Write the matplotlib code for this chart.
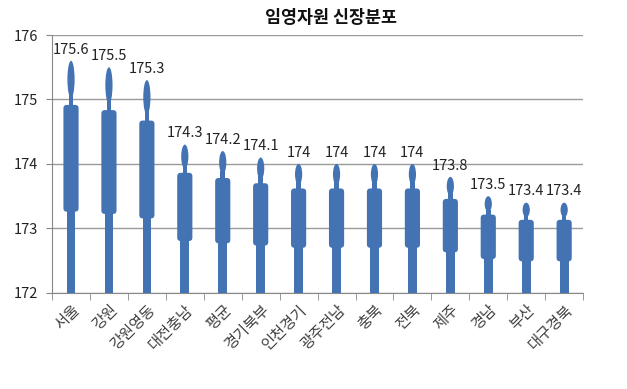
import matplotlib
matplotlib.use("Agg")
import matplotlib.pyplot as plt
from matplotlib.patches import FancyBboxPatch, Ellipse, Rectangle
import numpy as np

plt.rcParams['font.family'] = ['Noto Sans CJK KR', 'DejaVu Sans']

title = "임영자원 신장분포"
categories = ["서울", "강원", "강원영동", "대전충남", "평균", "경기북부", "인천경기",
              "광주전남", "충북", "전북", "제주", "경남", "부산", "대구경북"]
values = [175.6, 175.5, 175.3, 174.3, 174.2, 174.1, 174, 174, 174, 174, 173.8, 173.5, 173.4, 173.4]
y_ticks = [172, 173, 174, 175, 176]

base = 172
color = "#4373b3"

fig = plt.figure(figsize=(6.27, 3.89), dpi=100)
ax = fig.add_axes([0.083, 0.247, 0.847, 0.663])

x = np.arange(len(categories))
vals = np.array(values)
h = vals - base

# figure shape proportions (fractions of total height)
leg_top = base + 0.35 * h
body_top = base + 0.81 * h
neck_top = base + 0.86 * h
head_c = base + 0.92 * h
head_h = 0.16 * h

ax.bar(x, leg_top - base + 0.02, bottom=base, width=0.23, color=color, zorder=3)
for xi, lb, bt, nt, hc, hh in zip(x, leg_top, body_top, neck_top, head_c, head_h):
    body = FancyBboxPatch((xi - 0.2, lb), 0.4, bt - lb,
                          boxstyle="round,pad=0,rounding_size=0.09",
                          mutation_aspect=0.6, facecolor=color, edgecolor='none', zorder=3)
    ax.add_patch(body)
    ax.add_patch(Rectangle((xi - 0.06, bt - 0.03), 0.12, nt - bt + 0.03,
                           facecolor=color, edgecolor='none', zorder=3))
    ax.add_patch(Ellipse((xi, hc), 0.19, hh, facecolor=color, edgecolor='none', zorder=3))

for xi, v in zip(x, values):
    ax.annotate(f"{v:g}", (xi, v), xytext=(0, 3), textcoords='offset points',
                ha='center', va='bottom', fontsize=10.5, color='#222222')

ax.set_xlim(-0.5, len(categories) - 0.5)
ax.set_ylim(y_ticks[0], y_ticks[-1])
ax.set_yticks(y_ticks)
ax.set_yticklabels([str(t) for t in y_ticks], fontsize=10.5, color='#222222')
ax.yaxis.grid(True, color='#9a9a9a', linewidth=1.0)
ax.set_axisbelow(True)

ax.set_xticks(x)
ax.set_xticklabels(categories, rotation=45, ha='right', rotation_mode='anchor',
                   fontsize=11, color='#404040')
ax.tick_params(axis='x', which='major', length=0, pad=6)
ax.set_xticks(np.arange(-0.5, len(categories), 1.0), minor=True)
ax.tick_params(axis='x', which='minor', length=5, color='#888888', direction='out')
ax.tick_params(axis='y', length=4, color='#888888', pad=6)

for s in ['top', 'right']:
    ax.spines[s].set_visible(False)
for s in ['left', 'bottom']:
    ax.spines[s].set_color('#888888')

fig.text(0.528, 0.955, title, ha='center', va='center', fontsize=12.5,
         fontweight='bold', color='#111111')

fig.savefig("out.png", dpi=100)
